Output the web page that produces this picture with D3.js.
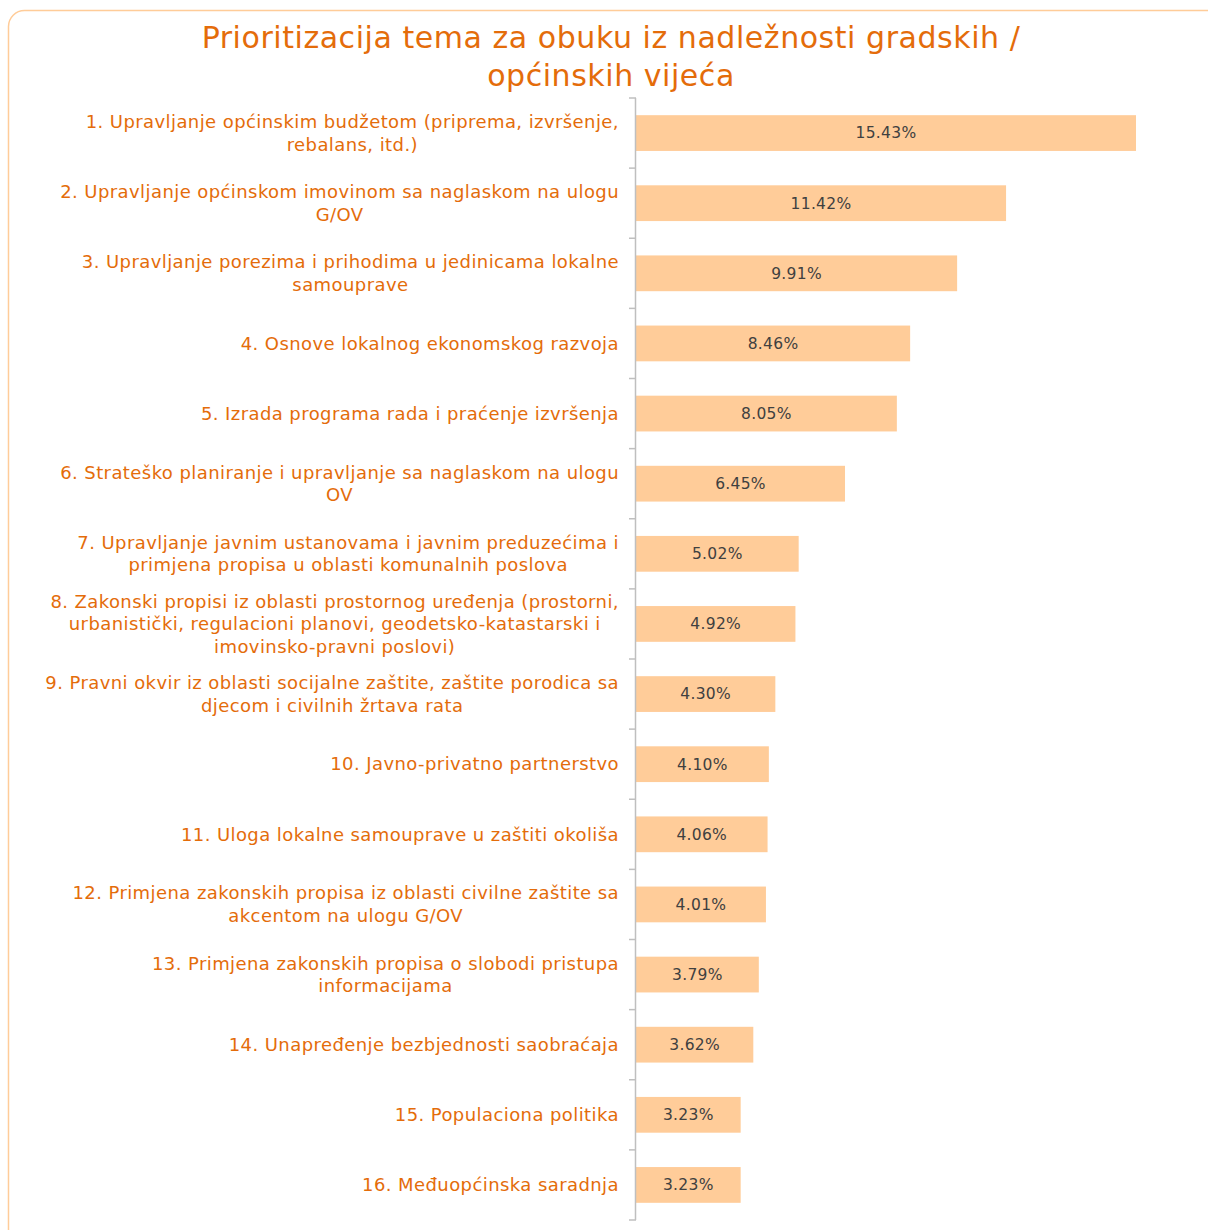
<!DOCTYPE html>
<html>
<head>
<meta charset="utf-8">
<script src="https://cdn.jsdelivr.net/npm/d3@7"></script>
<style>
  body { margin: 0; background: #fff; }
  svg { display: block; font-family: "DejaVu Sans", Verdana, sans-serif; }
</style>
</head>
<body>
<div id="chart"></div>
<script>
// podaci - kategorije (s prijelomima redova kao na slici) i vrijednosti u %
const categories = [
    ["1. Upravljanje općinskim budžetom (priprema, izvršenje,", "rebalans, itd.)"],
    ["2. Upravljanje općinskom imovinom sa naglaskom na ulogu", "G/OV"],
    ["3. Upravljanje porezima i prihodima u jedinicama lokalne", "samouprave"],
    ["4. Osnove lokalnog ekonomskog razvoja"],
    ["5. Izrada programa rada i praćenje izvršenja"],
    ["6. Strateško planiranje i upravljanje sa naglaskom na ulogu", "OV"],
    ["7. Upravljanje javnim ustanovama i javnim preduzećima i", "primjena propisa u oblasti komunalnih poslova"],
    ["8. Zakonski propisi iz oblasti prostornog uređenja (prostorni,", "urbanistički, regulacioni planovi, geodetsko-katastarski i", "imovinsko-pravni poslovi)"],
    ["9. Pravni okvir iz oblasti socijalne zaštite, zaštite porodica sa", "djecom i civilnih žrtava rata"],
    ["10. Javno-privatno partnerstvo"],
    ["11. Uloga lokalne samouprave u zaštiti okoliša"],
    ["12. Primjena zakonskih propisa iz oblasti civilne zaštite sa", "akcentom na ulogu G/OV"],
    ["13. Primjena zakonskih propisa o slobodi pristupa", "informacijama"],
    ["14. Unapređenje bezbjednosti saobraćaja"],
    ["15. Populaciona politika"],
    ["16. Međuopćinska saradnja"]
];
const values = [15.43, 11.42, 9.91, 8.46, 8.05, 6.45, 5.02, 4.92, 4.30, 4.10, 4.06, 4.01, 3.79, 3.62, 3.23, 3.23];
const titleLines = ["Prioritizacija tema za obuku iz nadležnosti gradskih /", "općinskih vijeća"];

const W = 1208, H = 1230;
const ORANGE = "#E46C0A";
const BAR = "#FFCC99";
const AXIS = "#BFBFBF";

const margin = { left: 636, top: 98 };
const plotBottom = 1220;

const svg = d3.select("#chart").append("svg").attr("width", W).attr("height", H);

// okvir
svg.append("rect")
    .attr("x", 8.5).attr("y", 10.5).attr("width", 1230).attr("height", 1250)
    .attr("rx", 16).attr("ry", 16)
    .style("fill", "none").style("stroke", BAR).style("stroke-width", 1.5);

// naslov
svg.append("text")
    .attr("text-anchor", "middle")
    .style("fill", ORANGE).style("font-size", "30px").style("letter-spacing", "0.55px")
    .selectAll("tspan").data(titleLines).join("tspan")
    .attr("x", 611).attr("y", (d, i) => 48 + i * 38)
    .text(d => d);

const idx = d3.range(values.length);
const y = d3.scaleBand().domain(idx).range([margin.top, plotBottom]).paddingInner(0.49).paddingOuter(0.245);
const x = d3.scaleLinear().domain([0, 15.43]).range([margin.left, 1136]);

// stupci
svg.append("g").selectAll("rect").data(idx).join("rect")
    .attr("x", x(0))
    .attr("y", i => y(i))
    .attr("width", i => x(values[i]) - x(0))
    .attr("height", y.bandwidth())
    .style("fill", BAR);

// vrijednosti
svg.append("g").selectAll("text").data(idx).join("text")
    .attr("x", i => (x(0) + x(values[i])) / 2)
    .attr("y", i => y(i) + y.bandwidth() / 2)
    .attr("dy", "0.35em")
    .attr("text-anchor", "middle")
    .style("fill", "#404040").style("font-size", "15.5px").style("letter-spacing", "0.3px")
    .text(i => values[i].toFixed(2) + "%");

// os
const axis = svg.append("g");
axis.append("line")
    .attr("x1", x(0) - 0.5).attr("x2", x(0) - 0.5)
    .attr("y1", margin.top).attr("y2", plotBottom)
    .style("stroke", AXIS).style("stroke-width", 1.5);
const tickYs = d3.range(values.length + 1).map(k => margin.top + k * (plotBottom - margin.top) / values.length);
axis.selectAll("line.tick").data(tickYs).join("line")
    .attr("class", "tick")
    .attr("x1", x(0) - 7).attr("x2", x(0))
    .attr("y1", d => d).attr("y2", d => d)
    .style("stroke", AXIS).style("stroke-width", 1.5);

// oznake kategorija - blok poravnat desno, redovi centrirani
const labelRight = 619;
const lineH = 22.5;
const lab = svg.append("g").style("fill", ORANGE).style("font-size", "18px").style("letter-spacing", "0.42px");
idx.forEach(i => {
    const lines = categories[i];
    const t = lab.append("text").attr("text-anchor", "middle");
    const cy = y(i) + y.bandwidth() / 2;
    const spans = t.selectAll("tspan").data(lines).join("tspan")
        .attr("y", (d, k) => cy + (k - (lines.length - 1) / 2) * lineH)
        .attr("dy", "0.35em")
        .text(d => d);
    let maxW = 0;
    spans.each(function () { maxW = Math.max(maxW, this.getComputedTextLength()); });
    spans.attr("x", labelRight - maxW / 2);
});
</script>
</body>
</html>
